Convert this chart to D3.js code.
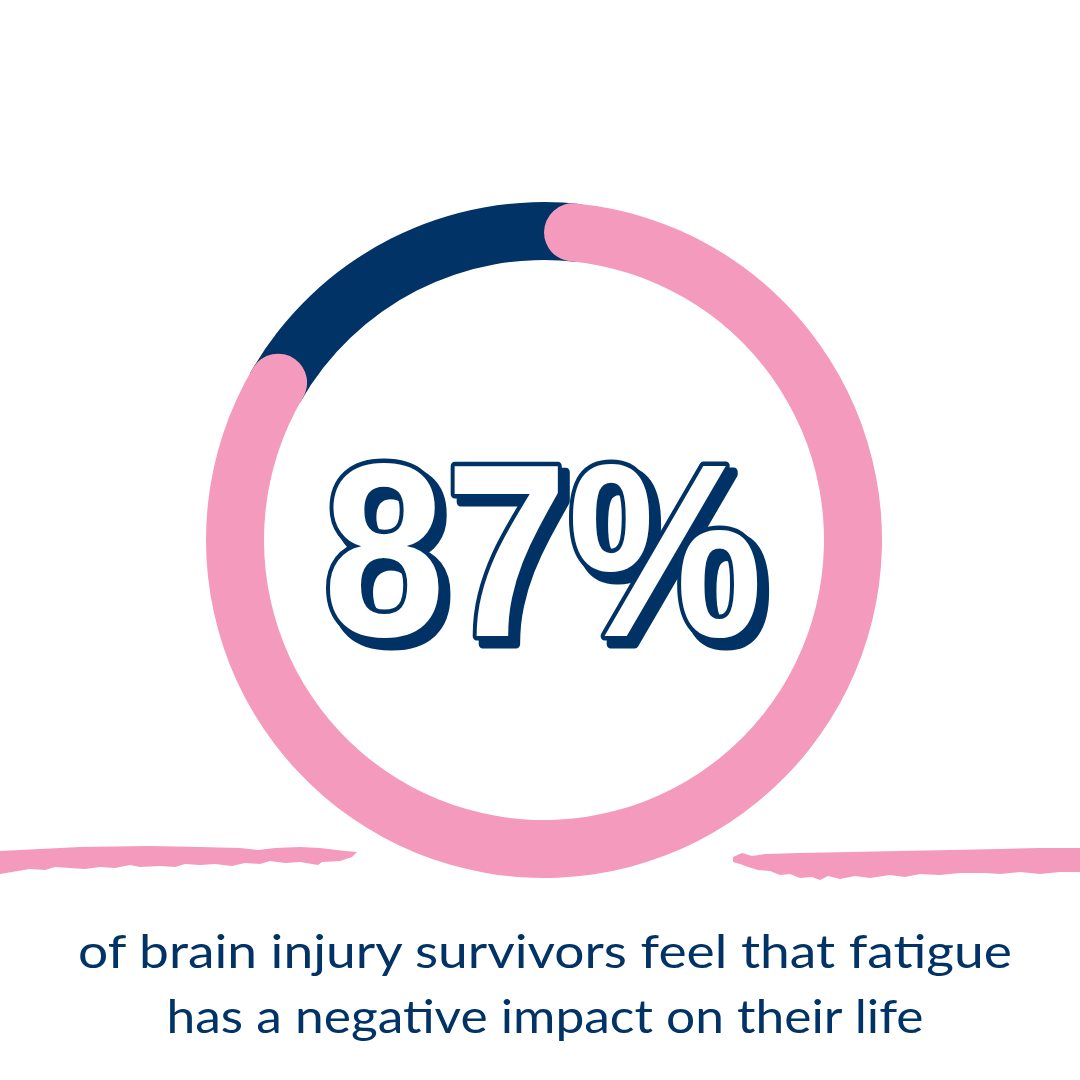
<!DOCTYPE html>
<html>
<head>
<meta charset="utf-8">
<script src="https://cdn.jsdelivr.net/npm/d3@7"></script>
<style>
  html, body { margin: 0; padding: 0; background: #ffffff; }
  svg { display: block; }
</style>
</head>
<body>
<svg id="chart" width="1080" height="1080"></svg>
<script>
// ---- data ----
const statLabel = "87%";
const segmentNames = ["affected", "not affected"];
const segmentValues = [85, 15];            // arc shares as drawn in the picture
const segmentColors = ["#F49ABD", "#023366"];
const captionLines = [
  "of brain injury survivors feel that fatigue",
  "has a negative impact on their life"
];

// ---- layout ----
const W = 1080, H = 1080;
const cx = 544, cy = 540;
const rOuter = 338, rInner = 280;
const thick = rOuter - rInner;
const navy = "#023366", pink = "#F49ABD";

const svg = d3.select("#chart");
svg.append("rect").attr("width", W).attr("height", H).attr("fill", "#fff");

// 3D shadow filter for the big label
const defs = svg.append("defs");
const f = defs.append("filter").attr("id", "shadow3d")
  .attr("x", "-10%").attr("y", "-10%").attr("width", "130%").attr("height", "130%");
f.append("feMorphology").attr("in", "SourceAlpha").attr("operator", "dilate").attr("radius", 1).attr("result", "dil");
f.append("feOffset").attr("in", "dil").attr("dx", 7).attr("dy", 7).attr("result", "off");
f.append("feFlood").attr("flood-color", navy).attr("result", "col");
f.append("feComposite").attr("in", "col").attr("in2", "off").attr("operator", "in").attr("result", "sh");
const fm = f.append("feMerge");
fm.append("feMergeNode").attr("in", "sh");
fm.append("feMergeNode").attr("in", "SourceGraphic");

// brush strokes (decoration)
const leftStroke = [[0,851],[40,849],[80,847],[150,846],[200,847],[240,848],[258,850],[275,848],[300,847],[320,848],[345,851],[357,852],
  [352,857],[340,861],[322,862],[318,865],[300,862],[285,863],[270,861],[260,864],[245,863],[232,866],[215,864],[200,865],[185,864],[175,867],[160,866],[140,867],[130,865],[115,868],[100,867],[85,869],[70,868],[55,867],[45,870],[30,869],[18,871],[0,874]];
const rightStroke = [[733,857],[742,853],[752,856],[765,854],[800,853],[850,852],[900,851],[950,850],[1000,849],[1040,848],[1080,848],
  [1080,872],[1060,872],[1040,874],[1020,872],[1000,874],[985,873],[960,873],[940,875],[920,874],[905,877],[890,875],[870,878],[855,876],[840,879],[828,876],[820,880],[812,877],[800,878],[790,874],[780,875],[770,871],[758,870],[748,867],[740,864],[733,862]];
const poly = d3.line().curve(d3.curveLinearClosed);
svg.append("path").attr("d", poly(leftStroke)).attr("fill", pink);
svg.append("path").attr("d", poly(rightStroke)).attr("fill", pink);

// ---- ring ----
const pie = d3.pie().sort(null).value(d => d).startAngle(0).endAngle(2 * Math.PI);
const arcs = pie(segmentValues);
const g = svg.append("g").attr("transform", `translate(${cx},${cy})`);
const capAngle = (thick / 2) / ((rOuter + rInner) / 2);

// navy segment, extended beneath the pink round caps
const navyArc = d3.arc().innerRadius(rInner).outerRadius(rOuter);
g.append("path")
  .attr("d", navyArc({startAngle: arcs[1].startAngle - capAngle * 1.2, endAngle: arcs[1].endAngle + capAngle * 1.2}))
  .attr("fill", segmentColors[1]);

// pink segment with round ends
const pinkArc = d3.arc().innerRadius(rInner).outerRadius(rOuter).cornerRadius(thick / 2);
g.append("path").attr("d", pinkArc(arcs[0])).attr("fill", segmentColors[0]);

// ---- big label ----
const labelFont = "'Liberation Sans', Arial, sans-serif";
const lx = 543, ly = 636, lsize = 247, lwidth = 440;
svg.append("text")
  .attr("x", lx).attr("y", ly)
  .attr("text-anchor", "middle")
  .attr("font-family", labelFont).attr("font-weight", 700).attr("font-size", lsize)
  .attr("textLength", lwidth).attr("lengthAdjust", "spacingAndGlyphs")
  .attr("fill", "#fff").attr("stroke", navy).attr("stroke-width", 9).attr("stroke-linejoin", "round")
  .attr("paint-order", "stroke")
  .attr("filter", "url(#shadow3d)")
  .text(statLabel);

// ---- caption ----
const capY = [968, 1033];
const capW = [934, 757];
svg.selectAll("text.cap").data(captionLines).enter().append("text")
  .attr("class", "cap")
  .attr("x", 545).attr("y", (d, i) => capY[i])
  .attr("text-anchor", "middle")
  .attr("font-family", "Lato, 'Open Sans', sans-serif").attr("font-weight", 400)
  .attr("font-size", 46)
  .attr("textLength", (d, i) => capW[i]).attr("lengthAdjust", "spacingAndGlyphs")
  .attr("fill", navy)
  .text(d => d);
</script>
</body>
</html>
